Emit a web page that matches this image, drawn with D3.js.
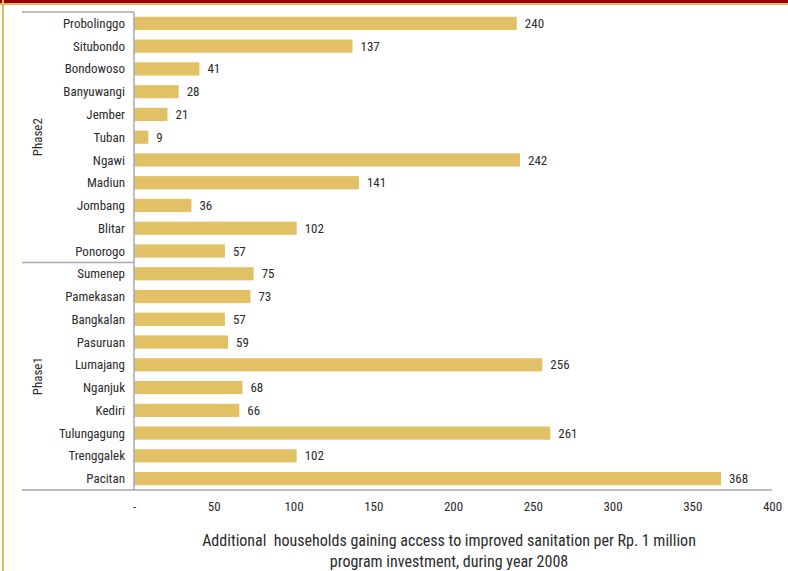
<!DOCTYPE html>
<html>
<head>
<meta charset="utf-8">
<script src="https://cdn.jsdelivr.net/npm/d3@7"></script>
<style>
  body { margin: 0; background: #fff; }
  text { font-family: "Liberation Sans Narrow", "Arial Narrow", "Roboto Condensed", sans-serif; font-stretch: condensed; fill: #2b2b2b; white-space: pre; }
</style>
</head>
<body>
<svg width="788" height="571"></svg>
<script>
// data, top to bottom
const phase2 = ['Probolinggo', 'Situbondo', 'Bondowoso', 'Banyuwangi', 'Jember', 'Tuban', 'Ngawi', 'Madiun', 'Jombang', 'Blitar', 'Ponorogo'];
const phase2Values = [240, 137, 41, 28, 21, 9, 242, 141, 36, 102, 57];
const phase1 = ['Sumenep', 'Pamekasan', 'Bangkalan', 'Pasuruan', 'Lumajang', 'Nganjuk', 'Kediri', 'Tulungagung', 'Trenggalek', 'Pacitan'];
const phase1Values = [75, 73, 57, 59, 256, 68, 66, 261, 102, 368];
const ticks = [0, 50, 100, 150, 200, 250, 300, 350, 400];
const titleLines = ['Additional  households gaining access to improved sanitation per Rp. 1 million', 'program investment, during year 2008'];

let svg = d3.select('svg'),
  width = +svg.attr('width'),
  height = +svg.attr('height');

let rows = phase2.map((n, i) => ({name: n, value: phase2Values[i], phase: 'Phase2'}))
  .concat(phase1.map((n, i) => ({name: n, value: phase1Values[i], phase: 'Phase1'})));

let mLeft = 134, mRight = 772, mTop = 12, mBottom = 490, outer = 22;

let x = d3.scaleLinear().domain([0, 400]).range([mLeft, mRight]);
let y = d3.scaleBand().domain(rows.map(d => d.name)).range([mTop, mBottom]).paddingInner(0.42).paddingOuter(0.21);

// frame decoration
svg.append('rect').attr('x', 0).attr('y', 0).attr('width', width).attr('height', 3).attr('fill', '#990000');
svg.append('rect').attr('x', 0).attr('y', 3).attr('width', width).attr('height', 2).attr('fill', '#E4BC55');
svg.append('rect').attr('x', 2).attr('y', 0).attr('width', 2).attr('height', height).attr('fill', '#E4BC55');

// bars
svg.append('g').selectAll('rect')
  .data(rows)
  .enter().append('rect')
  .attr('x', x(0))
  .attr('y', d => y(d.name))
  .attr('width', d => x(d.value) - x(0))
  .attr('height', y.bandwidth())
  .attr('fill', '#E2C066');

// value labels
svg.append('g').selectAll('text')
  .data(rows)
  .enter().append('text')
  .attr('x', d => x(d.value) + 8)
  .attr('y', d => y(d.name) + y.bandwidth() / 2)
  .attr('dy', '0.35em')
  .attr('font-size', 13)
  .text(d => d.value);

// category labels
svg.append('g').selectAll('text')
  .data(rows)
  .enter().append('text')
  .attr('x', mLeft - 9)
  .attr('y', d => y(d.name) + y.bandwidth() / 2)
  .attr('dy', '0.35em')
  .attr('text-anchor', 'end')
  .attr('font-size', 13)
  .text(d => d.name);

// lines of the table
let lineColor = '#A3AAB1';
let split = mTop + phase2.length * (mBottom - mTop) / rows.length;
svg.append('line').attr('x1', outer).attr('x2', mLeft).attr('y1', mTop).attr('y2', mTop).attr('stroke', lineColor).attr('stroke-width', 1.5);
svg.append('line').attr('x1', outer).attr('x2', mLeft).attr('y1', split).attr('y2', split).attr('stroke', lineColor).attr('stroke-width', 1.5);
svg.append('line').attr('x1', mLeft).attr('x2', mLeft).attr('y1', mTop).attr('y2', mBottom).attr('stroke', lineColor).attr('stroke-width', 1.5);

// phase labels
[['Phase2', mTop, split], ['Phase1', split, mBottom]].forEach(p => {
  svg.append('text')
    .attr('transform', 'translate(37,' + (p[1] + p[2]) / 2 + ') rotate(-90)')
    .attr('text-anchor', 'middle')
    .attr('dy', '0.35em')
    .attr('font-size', 13)
    .text(p[0]);
});

// x axis
let axis = svg.append('g')
  .attr('transform', 'translate(0,' + mBottom + ')')
  .call(d3.axisBottom(x).tickValues(ticks).tickSize(0).tickPadding(12).tickFormat(d => d === 0 ? '-' : d));
axis.select('.domain').remove();
axis.selectAll('text').attr('font-size', 13).attr('fill', null);
axis.attr('font-family', null);
svg.append('line').attr('x1', outer).attr('x2', mRight).attr('y1', mBottom).attr('y2', mBottom).attr('stroke', lineColor).attr('stroke-width', 1.5);

// axis title
let titleX = 449;
svg.append('text')
  .attr('x', titleX)
  .attr('y', 546)
  .attr('text-anchor', 'middle')
  .attr('font-size', 16)
  .selectAll('tspan')
  .data(titleLines)
  .enter().append('tspan')
  .attr('x', titleX)
  .attr('dy', (d, i) => i ? 21 : 0)
  .text(d => d);
</script>
</body>
</html>
